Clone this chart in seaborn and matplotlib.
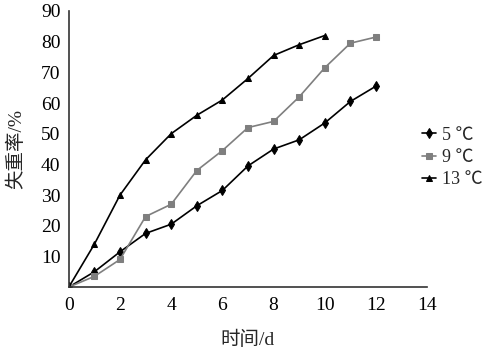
import matplotlib
matplotlib.use("Agg")
import matplotlib.pyplot as plt
import seaborn as sns
import pandas as pd

days_5 = [0, 1, 2, 3, 4, 5, 6, 7, 8, 9, 10, 11, 12]
loss_5 = [0, 5, 11.5, 17.5, 20.5, 26.5, 31.5, 39.5, 45, 48, 53.5, 60.5, 65.5]
days_9 = [0, 1, 2, 3, 4, 5, 6, 7, 8, 9, 10, 11, 12]
loss_9 = [0, 3.5, 9, 23, 27, 38, 44.5, 52, 54, 62, 71.5, 79.5, 81.5]
days_13 = [0, 1, 2, 3, 4, 5, 6, 7, 8, 9, 10]
loss_13 = [0, 14, 30, 41.5, 50, 56, 61, 68, 75.5, 79, 82]
labels = ["5 ℃", "9 ℃", "13 ℃"]
x_ticks = [0, 2, 4, 6, 8, 10, 12, 14]
y_ticks = [10, 20, 30, 40, 50, 60, 70, 80, 90]

sns.set_style("white")
plt.rcParams['font.family'] = ['Liberation Serif', 'Noto Sans CJK SC', 'DejaVu Sans']
plt.rcParams['font.size'] = 14

df = pd.concat([
    pd.DataFrame({"day": days_5, "loss": loss_5, "T": labels[0]}),
    pd.DataFrame({"day": days_9, "loss": loss_9, "T": labels[1]}),
    pd.DataFrame({"day": days_13, "loss": loss_13, "T": labels[2]}),
])

fig = plt.figure(figsize=(4.95, 3.54), dpi=100)
ax = fig.add_axes([0.139, 0.189, 0.724, 0.780])

styles = {labels[0]: ("d", "black", "black"),
          labels[1]: ("s", "#7f7f7f", "#7f7f7f"),
          labels[2]: ("^", "black", "black")}
for lab in labels:
    m, lc, mc = styles[lab]
    sub = df[df["T"] == lab]
    sns.lineplot(data=sub, x="day", y="loss", ax=ax, color=lc, marker=m,
                 markersize=5, markerfacecolor=mc, markeredgecolor=mc,
                 linewidth=1.2, label=lab, legend=False)

ax.set_xlim(0, 14)
ax.set_ylim(0, 90)
ax.set_xticks(x_ticks)
ax.set_yticks(y_ticks)
ax.tick_params(direction="in", length=4, width=1, colors="#333333",
               labelcolor="black", labelsize=14, pad=6)
ax.tick_params(axis="x", pad=7)
for s in ["top", "right"]:
    ax.spines[s].set_visible(False)
for s in ["left", "bottom"]:
    ax.spines[s].set_color("#333333")
    ax.spines[s].set_linewidth(1.2)
ax.set_xlabel("时间/d", fontsize=14, labelpad=12)
ax.set_ylabel("失重率/%", fontsize=14, labelpad=11)

h, l = ax.get_legend_handles_labels()
fig.legend(h, l, loc="center left", bbox_to_anchor=(0.852, 0.555), frameon=False,
           fontsize=13, handlelength=0.8, handletextpad=0.3, labelspacing=0.3,
           borderpad=0, borderaxespad=0)

fig.savefig("out.png", dpi=100)
